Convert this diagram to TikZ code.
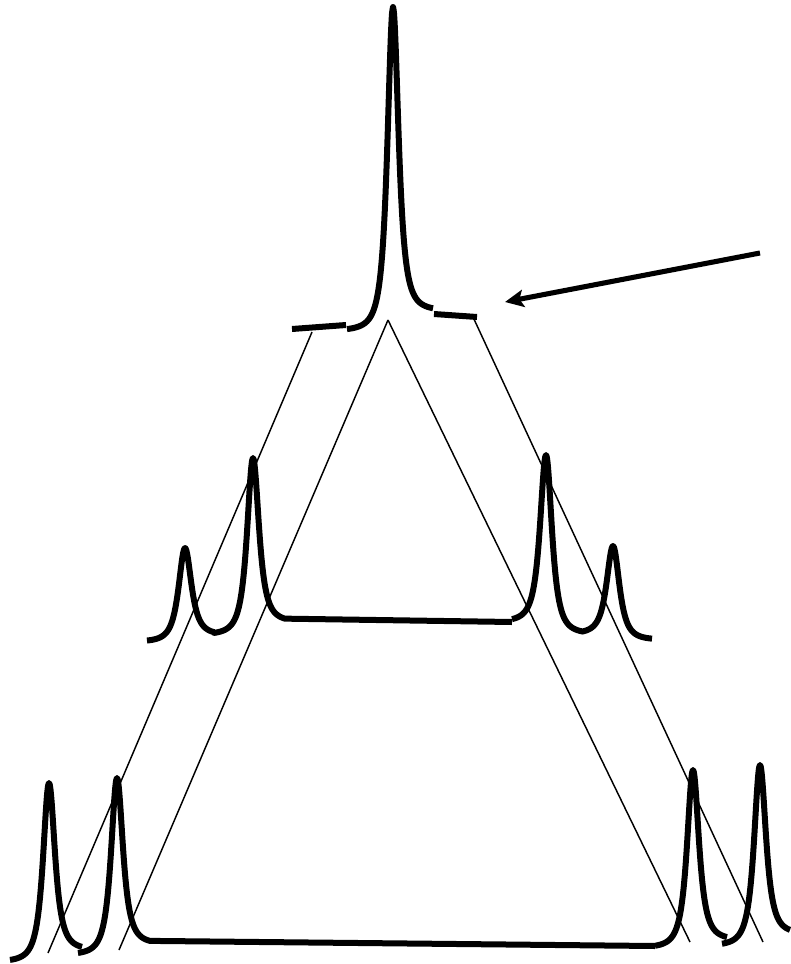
\documentclass[tikz,border=0pt]{standalone}
\usetikzlibrary{arrows.meta}
\newcommand\lzf[1]{(1/((1+(#1)^2)*sqrt(1+(#1)^2)))}
\tikzset{
  peak/.style={line width=4.5pt,line join=round},
  pk/.style={samples=45,smooth},
  guide/.style={line width=1.1pt},
  pointer/.style={line width=3.8pt,-{Stealth[length=14pt,width=13pt,inset=3pt]}}
}
\begin{document}
\begin{tikzpicture}[x=0.75pt,y=-0.75pt]
\useasboundingbox (0,0) rectangle (790,964);
% guide lines
\coordinate (tl) at (312,332);
\coordinate (ap) at (388,320);
\coordinate (tr) at (473,317);
\coordinate (bl1) at (48,953);
\coordinate (bl2) at (119,950);
\coordinate (br1) at (690,942);
\coordinate (br2) at (763,942);
\draw[guide] (tl) -- (bl1);
\draw[guide] (ap) -- (bl2);
\draw[guide] (ap) -- (br1);
\draw[guide] (tr) -- (br2);
% top peak
\draw[peak] (292,329) -- (346,325);
\draw[peak] plot[pk,domain=347:393] (\x,{331-(331-7)*\lzf{(\x-393)/8.5}})
  -- plot[pk,domain=393:433] (\x,{311-(311-7)*\lzf{(\x-393)/8.5}});
\draw[peak] (434,314) -- (477,317);
% middle left
\draw[peak] plot[pk,domain=147:185] (\x,{642-(642-548)*\lzf{(\x-185)/9.8}})
  -- plot[pk,domain=185:214] (\x,{635-(635-548)*\lzf{(\x-185)/9.8}})
  -- plot[pk,domain=214:253] (\x,{635-(635-458)*\lzf{(\x-253)/9.1}})
  -- plot[pk,domain=253:285] (\x,{622-(622-458)*\lzf{(\x-253)/9.1}})
  -- (512,622);
% middle right
\draw[peak] plot[pk,domain=512:546] (\x,{622-(622-455)*\lzf{(\x-546)/9.1}})
  -- plot[pk,domain=546:582] (\x,{634-(634-455)*\lzf{(\x-546)/9.1}})
  -- plot[pk,domain=582:613] (\x,{634-(634-546)*\lzf{(\x-613)/9.8}})
  -- plot[pk,domain=613:652] (\x,{640-(640-546)*\lzf{(\x-613)/9.8}});
% bottom left
\draw[peak] plot[pk,domain=10:49] (\x,{962-(962-783)*\lzf{(\x-49)/9.1}})
  -- plot[pk,domain=49:82] (\x,{950-(950-783)*\lzf{(\x-49)/9.1}});
\draw[peak] plot[pk,domain=78:117] (\x,{955-(955-778)*\lzf{(\x-117)/9.1}})
  -- plot[pk,domain=117:150] (\x,{944-(944-778)*\lzf{(\x-117)/9.1}})
  -- (655,946);
% bottom right
\draw[peak] plot[pk,domain=655:693] (\x,{948-(948-770)*\lzf{(\x-693)/9.1}})
  -- plot[pk,domain=693:727] (\x,{940-(940-770)*\lzf{(\x-693)/9.1}});
\draw[peak] plot[pk,domain=722:760] (\x,{946-(946-765)*\lzf{(\x-760)/9.1}})
  -- plot[pk,domain=760:790] (\x,{934-(934-765)*\lzf{(\x-760)/9.1}});
% arrow
\coordinate (as) at (760,253);
\coordinate (ae) at (505,302);
\draw[pointer] (as) -- (ae);
\end{tikzpicture}
\end{document}
